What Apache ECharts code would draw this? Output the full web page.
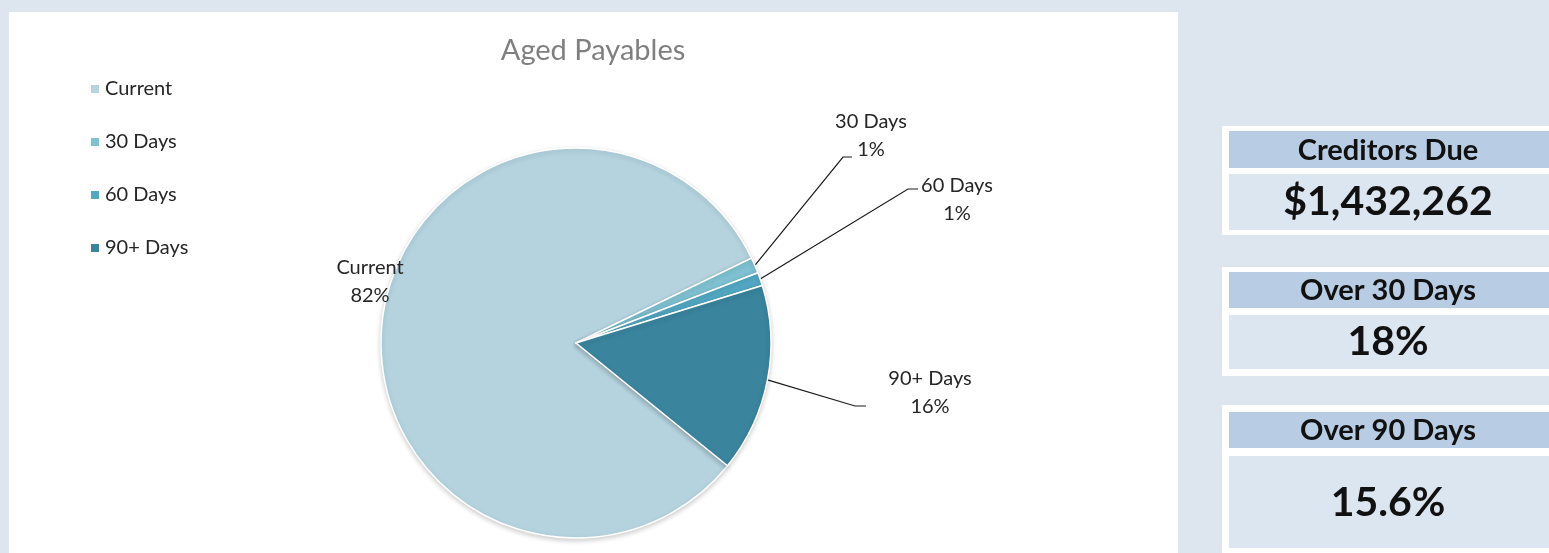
<!DOCTYPE html>
<html>
<head>
<meta charset="utf-8">
<title>Aged Payables</title>
<script src="https://cdn.jsdelivr.net/npm/echarts@6/dist/echarts.min.js"></script>
<style>
  html, body { margin: 0; padding: 0; background: #dde5ef; }
  #chart { width: 1549px; height: 553px; }
</style>
</head>
<body>
<div id="chart"></div>
<script>
// Ageing buckets and outstanding amounts ($)
const buckets = ['Current', '30 Days', '60 Days', '90+ Days'];
const amounts = [1174455, 18619, 15755, 223433];
const sliceColors = ['#b4d3df', '#7fc1d2', '#52a8c3', '#3a849e'];

// KPI panel headings
const kpiTitles = ['Creditors Due', 'Over 30 Days', 'Over 90 Days'];

const total = amounts.reduce((a, b) => a + b, 0);
const over30 = amounts[1] + amounts[2] + amounts[3];
const over90 = amounts[3];
const kpiValues = [
  '$' + total.toLocaleString('en-US'),
  Math.round(over30 / total * 100) + '%',
  (over90 / total * 100).toFixed(1) + '%'
];

const FONT = 'Lato, "Open Sans", sans-serif';

// label placement (centre of text block) and elbow of the leader line
const labelSpots = [
  { x: 370, y: 282, elbow: null },
  { x: 871, y: 136, elbow: [[843, 157], [852, 157]] },
  { x: 957, y: 200, elbow: [[908, 189], [918, 189]] },
  { x: 930, y: 393, elbow: [[855, 406], [866, 406]] }
];

// KPI boxes: frame, header band, value band
const kpiBoxes = [
  { top: 126, head: [131, 37], body: [174, 56], bottom: 235 },
  { top: 267, head: [272, 36], body: [315, 54], bottom: 376 },
  { top: 405, head: [412, 36], body: [456, 92], bottom: 560 }
];

const graphics = [
  { type: 'rect', z: -10, shape: { x: 9, y: 12, width: 1169, height: 560 }, style: { fill: '#ffffff' }, silent: true }
];
kpiBoxes.forEach((b, i) => {
  graphics.push({ type: 'rect', z: -10, shape: { x: 1222, y: b.top, width: 340, height: b.bottom - b.top }, style: { fill: '#ffffff' }, silent: true });
  graphics.push({ type: 'rect', z: -9, shape: { x: 1229, y: b.head[0], width: 320, height: b.head[1] }, style: { fill: '#b8cce4' }, silent: true });
  graphics.push({ type: 'rect', z: -9, shape: { x: 1229, y: b.body[0], width: 320, height: b.body[1] }, style: { fill: '#dce6f1' }, silent: true });
  graphics.push({
    type: 'text', z: 5, x: 1388, y: b.head[0] + b.head[1] / 2 + 1,
    style: { text: kpiTitles[i], fill: '#111', font: 'bold 29px ' + FONT, textAlign: 'center', textVerticalAlign: 'middle' }
  });
  graphics.push({
    type: 'text', z: 5, x: 1388, y: i === 2 ? 503 : b.body[0] + b.body[1] / 2,
    style: { text: kpiValues[i], fill: '#111', font: 'bold 41px ' + FONT, textAlign: 'center', textVerticalAlign: 'middle' }
  });
});

const chart = echarts.init(document.getElementById('chart'), null, { renderer: 'canvas' });

chart.setOption({
  backgroundColor: '#dde5ef',
  animation: false,
  title: {
    text: 'Aged Payables',
    left: 593, top: 36,
    padding: 0,
    textAlign: 'center',
    textStyle: { fontFamily: FONT, fontSize: 29, fontWeight: 'normal', color: '#7f7f7f' }
  },
  legend: {
    orient: 'vertical',
    left: 84, top: 72,
    icon: 'rect',
    itemWidth: 10, itemHeight: 10,
    itemGap: 29,
    data: buckets,
    textStyle: { fontFamily: FONT, fontSize: 20, color: '#262626', lineHeight: 24 }
  },
  graphic: graphics,
  series: [{
    type: 'pie',
    center: [576, 343],
    radius: 195,
    startAngle: -39,
    clockwise: true,
    color: sliceColors,
    itemStyle: {
      borderColor: '#ffffff', borderWidth: 1.5,
      shadowBlur: 5, shadowColor: 'rgba(0,0,0,0.18)', shadowOffsetY: 2
    },
    emphasis: { disabled: true },
    label: {
      position: 'outside',
      fontFamily: FONT, fontSize: 20, lineHeight: 28, color: '#262626',
      align: 'center',
      formatter: p => p.name + '\n' + Math.round(p.percent) + '%'
    },
    labelLine: { show: true, lineStyle: { color: '#1a1a1a', width: 1.2 } },
    labelLayout: function (params) {
      const spot = labelSpots[params.dataIndex];
      const out = { x: spot.x, y: spot.y, align: 'center', verticalAlign: 'middle' };
      if (spot.elbow && params.labelLinePoints) {
        out.labelLinePoints = [params.labelLinePoints[0], spot.elbow[0], spot.elbow[1]];
      }
      return out;
    },
    data: buckets.map((name, i) => ({
      name: name,
      value: amounts[i],
      labelLine: { show: i !== 0 }
    }))
  }]
});
</script>
</body>
</html>
